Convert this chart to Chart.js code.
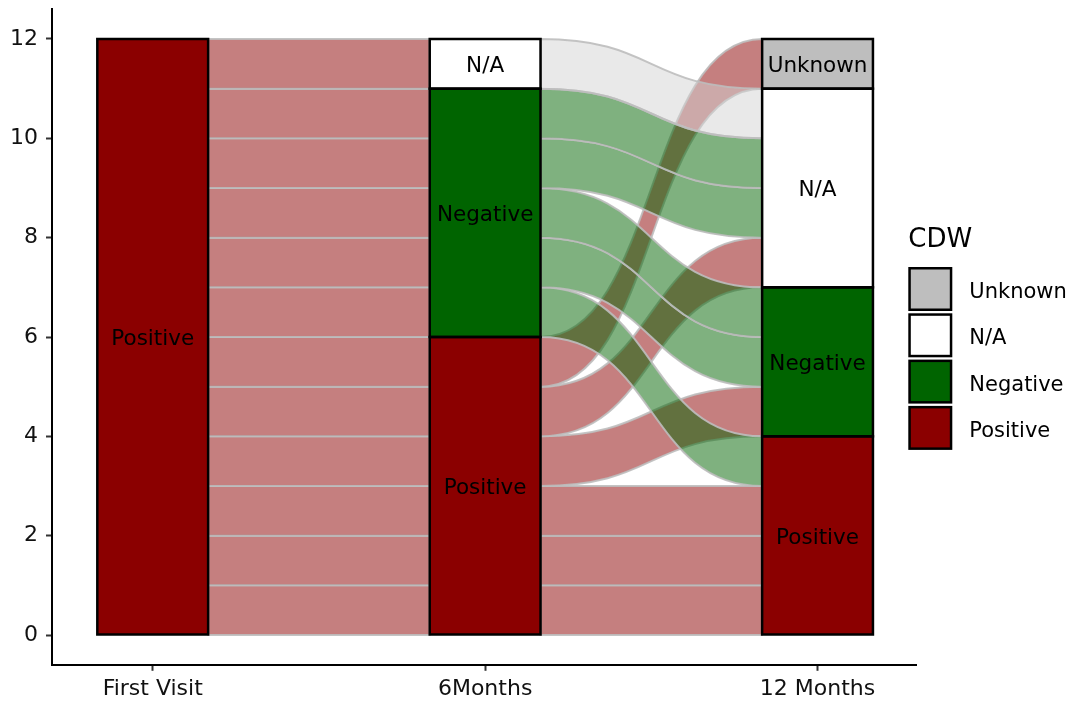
<!DOCTYPE html>
<html><head><meta charset="utf-8">
<script src="https://cdn.jsdelivr.net/npm/chart.js@4.4.0/dist/chart.umd.min.js"></script>
<style>html,body{margin:0;padding:0;background:#fff;} canvas{display:block;}</style>
</head><body>
<canvas id="c" width="1069" height="705"></canvas>
<script>
// ---------- data ----------
const axisLabels = ['First Visit', '6Months', '12 Months'];
const strataOrder = ['Positive', 'Negative', 'N/A', 'Unknown']; // bottom to top
const legendOrder = ['Unknown', 'N/A', 'Negative', 'Positive'];
const legendTitle = 'CDW';
const yTicks = [0, 2, 4, 6, 8, 10, 12];
// status of each of the 12 subjects at each visit
const firstVisit = ['Positive','Positive','Positive','Positive','Positive','Positive','Positive','Positive','Positive','Positive','Positive','Positive'];
const sixMonths = ['Positive','Positive','Positive','Positive','Positive','Positive','Negative','Negative','Negative','Negative','Negative','N/A'];
const twelveMonths = ['Positive','Positive','Positive','Negative','N/A','Unknown','Positive','Negative','Negative','N/A','N/A','N/A'];
const visits = [firstVisit, sixMonths, twelveMonths];

// ---------- styles ----------
const strataFill = {'Positive':'#8B0000','Negative':'#006400','N/A':'#FFFFFF','Unknown':'#BEBEBE'};
const flowFill = {'Positive':'rgba(139,0,0,0.5)','Negative':'rgba(0,100,0,0.5)','N/A':'rgba(211,211,211,0.5)','Unknown':'rgba(190,190,190,0.5)'};
const flowLine = 'rgba(190,190,190,0.9)';
const BAR_W = 1/3;
const CURVE_K = 0.52;
const FONT = '"DejaVu Sans", sans-serif';
const TICK_TXT = 22, STRATUM_TXT = 21.5, LEGEND_TXT = 21;

function strataSpans(statuses) {
  let base = 0; const spans = {};
  strataOrder.forEach(s => {
    const n = statuses.filter(v => v === s).length;
    if (n > 0) spans[s] = [base, base + n];
    base += n;
  });
  return spans;
}
const spansByAxis = visits.map(strataSpans);

function lodePositions(from, to) {
  const pos = new Array(from.length);
  const spans = strataSpans(from);
  strataOrder.forEach(s => {
    if (!spans[s]) return;
    const idx = from.map((v, i) => i).filter(i => from[i] === s);
    idx.sort((a, b) => (strataOrder.indexOf(to[a]) - strataOrder.indexOf(to[b])) || (a - b));
    idx.forEach((i, k) => { pos[i] = spans[s][0] + k; });
  });
  return pos;
}

const barDatasets = strataOrder.map(s => ({
  label: s,
  data: spansByAxis.map((sp, i) => sp[s] ? {x: i + 1, y: sp[s]} : null).filter(Boolean),
  backgroundColor: strataFill[s],
  borderWidth: 0,
  grouped: false,
  categoryPercentage: 1,
  barPercentage: BAR_W
}));

const flowPlugin = {
  id: 'flows',
  beforeDatasetsDraw(chart) {
    const {ctx} = chart; const x = chart.scales.x, y = chart.scales.y;
    ctx.save();
    for (let a = 0; a < visits.length - 1; a++) {
      const L = visits[a], R = visits[a + 1];
      const p0 = lodePositions(L, R), p1 = lodePositions(R, L);
      const x0 = x.getPixelForValue(a + 1 + BAR_W / 2), x1 = x.getPixelForValue(a + 2 - BAR_W / 2);
      const cx0 = x0 + (x1 - x0) * CURVE_K, cx1 = x1 - (x1 - x0) * CURVE_K;
      const order = L.map((v, i) => i).sort((i, j) => (strataOrder.indexOf(L[i]) - strataOrder.indexOf(L[j])) || (p0[i] - p0[j]));
      order.forEach(i => {
        const yb0 = y.getPixelForValue(p0[i]), yt0 = y.getPixelForValue(p0[i] + 1);
        const yb1 = y.getPixelForValue(p1[i]), yt1 = y.getPixelForValue(p1[i] + 1);
        ctx.beginPath();
        ctx.moveTo(x0, yt0);
        ctx.bezierCurveTo(cx0, yt0, cx1, yt1, x1, yt1);
        ctx.lineTo(x1, yb1);
        ctx.bezierCurveTo(cx1, yb1, cx0, yb0, x0, yb0);
        ctx.closePath();
        ctx.fillStyle = flowFill[L[i]];
        ctx.fill();
        ctx.strokeStyle = flowLine; ctx.lineWidth = 2;
        ctx.stroke();
      });
    }
    ctx.restore();
  },
  afterDatasetsDraw(chart) {
    const {ctx} = chart;
    ctx.save();
    chart.data.datasets.forEach((ds, di) => {
      const meta = chart.getDatasetMeta(di);
      meta.data.forEach(el => {
        const p = el.getProps(['x', 'y', 'base', 'width'], true);
        const l = p.x - p.width / 2, t = Math.min(p.y, p.base), h = Math.abs(p.base - p.y);
        ctx.strokeStyle = '#000'; ctx.lineWidth = 2.5;
        ctx.strokeRect(l, t, p.width, h);
        ctx.fillStyle = '#000'; ctx.font = STRATUM_TXT + 'px ' + FONT;
        ctx.textAlign = 'center'; ctx.textBaseline = 'alphabetic';
        ctx.fillText(ds.label, p.x, t + h / 2 + STRATUM_TXT * 0.38);
      });
    });
    ctx.restore();
  },
  afterDraw(chart) {
    const {ctx, chartArea} = chart;
    const lx = chartArea.right - 8.3;
    ctx.save();
    ctx.fillStyle = '#000'; ctx.textAlign = 'left'; ctx.textBaseline = 'alphabetic';
    ctx.font = '26px ' + FONT;
    ctx.fillText(legendTitle, lx, 247);
    legendOrder.forEach((s, i) => {
      const top = 267 + i * 46.3;
      ctx.fillStyle = strataFill[s];
      ctx.fillRect(lx + 1.25, top + 1.25, 41.5, 41.5);
      ctx.strokeStyle = '#000'; ctx.lineWidth = 2.5;
      ctx.strokeRect(lx + 1.25, top + 1.25, 41.5, 41.5);
      ctx.fillStyle = '#000'; ctx.font = LEGEND_TXT + 'px ' + FONT;
      ctx.fillText(s, lx + 61, top + 31);
    });
    ctx.restore();
  }
};

new Chart(document.getElementById('c'), {
  type: 'bar',
  data: { datasets: barDatasets },
  options: {
    responsive: false,
    animation: false,
    devicePixelRatio: 1,
    layout: { padding: { top: 9.2, right: 152.4, bottom: 0, left: 0 } },
    plugins: { legend: { display: false }, tooltip: { enabled: false } },
    scales: {
      x: {
        type: 'linear', min: 0.697, max: 3.298, offset: false,
        afterBuildTicks: s => { s.ticks = axisLabels.map((_, i) => ({ value: i + 1 })); },
        ticks: { callback: (v, i) => axisLabels[i], font: { family: FONT, size: TICK_TXT }, color: '#111', padding: 5, maxRotation: 0, autoSkip: false },
        grid: { display: true, offset: false, drawOnChartArea: false, drawTicks: true, tickLength: 6, tickColor: '#333', tickWidth: 2 },
        border: { display: true, color: '#000', width: 2 },
        afterFit: s => { s.height = 40.2; s.paddingLeft = 0; s.paddingRight = 0; }
      },
      y: {
        type: 'linear', min: -0.6, max: 12.6,
        afterBuildTicks: s => { s.ticks = yTicks.map(v => ({ value: v })); },
        ticks: { font: { family: FONT, size: TICK_TXT }, color: '#111', padding: 8 },
        grid: { display: true, drawOnChartArea: false, drawTicks: true, tickLength: 6, tickColor: '#333', tickWidth: 2 },
        border: { display: true, color: '#000', width: 2 },
        afterFit: s => { s.width = 52; s.paddingTop = 0; s.paddingBottom = 0; }
      }
    }
  },
  plugins: [flowPlugin]
});
</script>
</body></html>
